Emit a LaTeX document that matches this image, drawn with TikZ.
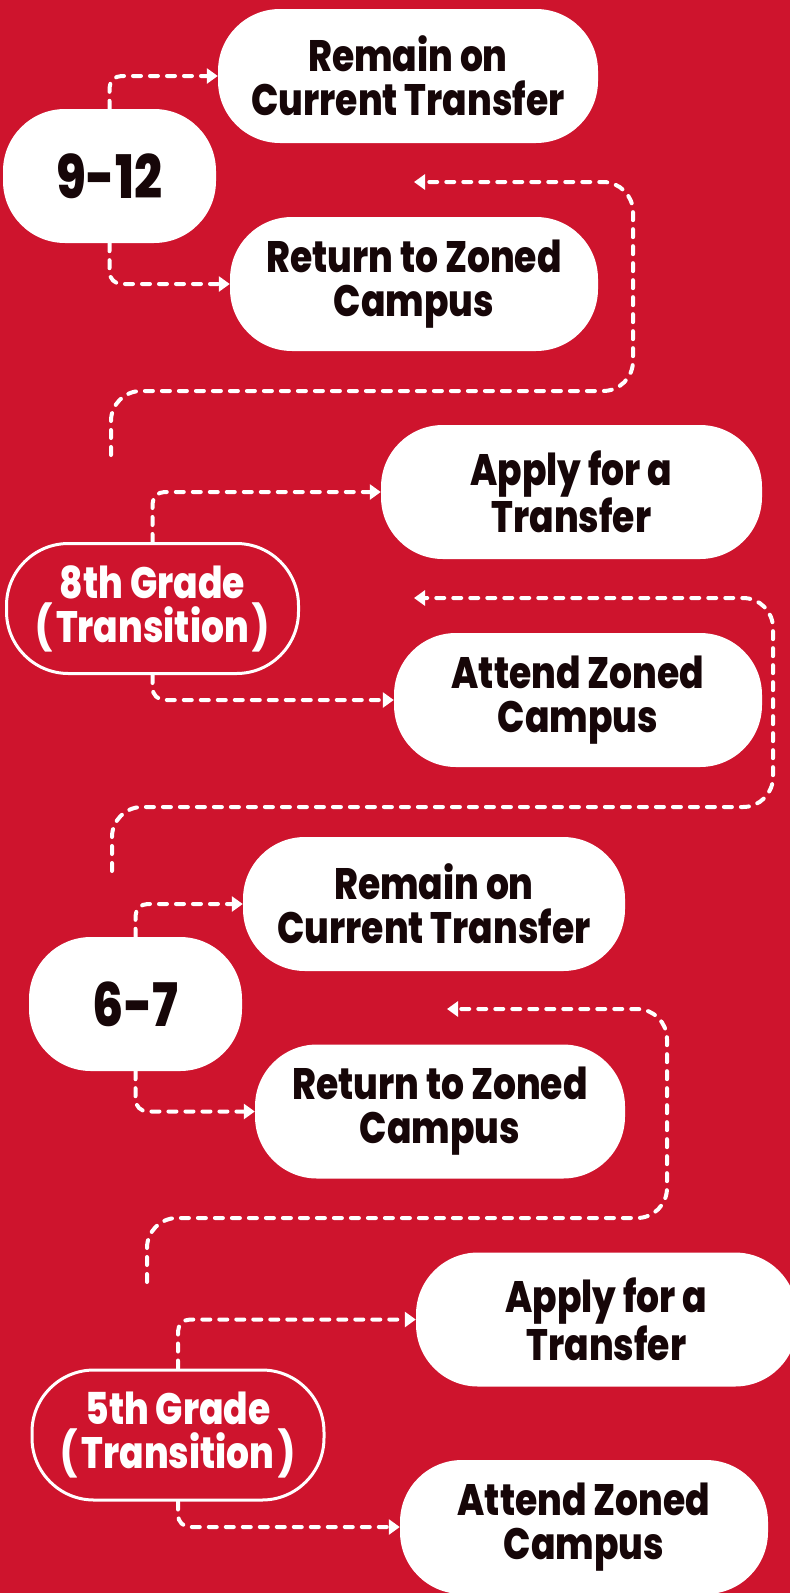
\documentclass[tikz,border=0pt]{standalone}
\usepackage{fontspec}
\newfontfamily\boxfont{Poppins}[FakeStretch=0.82, BoldFont={* ExtraBold}]
\usetikzlibrary{arrows.meta}
\definecolor{bgred}{RGB}{206,20,45}
\definecolor{ink}{RGB}{22,6,8}

\begin{document}
\begin{tikzpicture}[x=1pt,y=-1pt,
    choice/.style={fill=white, text=ink, rounded corners=62pt, minimum width=380pt, minimum height=134pt,
      inner sep=0pt, align=center, font=\boxfont\bfseries\fontsize{44}{44}\selectfont},
    grade/.style={fill=white, text=ink, rounded corners=62pt, minimum width=213pt, minimum height=134pt,
      inner sep=0pt, font=\boxfont\bfseries\fontsize{60}{60}\selectfont},
    gradeout/.style={draw=white, line width=3pt, fill=bgred, text=white, rounded corners=62pt,
      minimum width=292pt, minimum height=130pt, inner sep=0pt, align=center,
      font=\boxfont\bfseries\fontsize{44}{44}\selectfont},
    flow/.style={white, line width=4pt, line cap=round, dash pattern=on 8pt off 9pt, rounded corners=12pt,
      -{Triangle[length=11pt,width=15pt]}},
    backflow/.style={flow, rounded corners=30pt}]
  \useasboundingbox (0,0) rectangle (790,1593);
  \fill[bgred] (0,0) rectangle (790,1593);
  \clip (0,0) rectangle (790,1593);

  % 9-12
  \node[choice] (r1) at (408,76) {Remain on\\Current Transfer};
  \node[grade] (g1) at (109.5,176) {9-12};
  \node[choice, minimum width=368pt] (z1) at (414,284) {Return to Zoned\\Campus};
  \draw[flow] (g1.north) |- (r1.west);
  \draw[flow] (g1.south) |- (z1.west);

  \coordinate (s1) at (111,455);
  \coordinate (e1) at (414,182);
  \draw[backflow] (s1) |- (633,391) |- (e1);

  % 8th grade
  \node[choice, minimum width=381pt] (a1) at (571.5,492) {Apply for a\\Transfer};
  \node[gradeout] (g2) at (152.5,608.5) {8th Grade\\(\hspace{4pt}Transition\hspace{4pt})};
  \node[choice, minimum width=368pt] (c1) at (578,700) {Attend Zoned\\Campus};
  \draw[flow] (g2.north) |- (a1.west);
  \draw[flow] (g2.south) |- (c1.west);

  \coordinate (s2) at (112,871);
  \coordinate (e2) at (414,598);
  \draw[backflow] (s2) |- (773,807) |- (e2);

  % 6-7
  \node[choice, minimum width=382pt] (r2) at (434,904) {Remain on\\Current Transfer};
  \node[grade] (g3) at (135.5,1004) {6-7};
  \node[choice, minimum width=370pt] (z2) at (440,1111.5) {Return to Zoned\\Campus};
  \draw[flow] (g3.north) |- (r2.west);
  \draw[flow] (g3.south) |- (z2.west);

  \coordinate (s3) at (147,1282);
  \coordinate (e3) at (447,1009);
  \draw[backflow] (s3) |- (667,1218) |- (e3);

  % 5th grade
  \node[choice, minimum width=381pt] (a2) at (606.5,1319.5) {Apply for a\\Transfer};
  \node[gradeout] (g4) at (178,1435) {5th Grade\\(\hspace{4pt}Transition\hspace{4pt})};
  \node[choice, minimum width=368pt] (c2) at (584,1527) {Attend Zoned\\Campus};
  \draw[flow] (g4.north) |- (a2.west);
  \draw[flow] (g4.south) |- (c2.west);
\end{tikzpicture}
\end{document}
